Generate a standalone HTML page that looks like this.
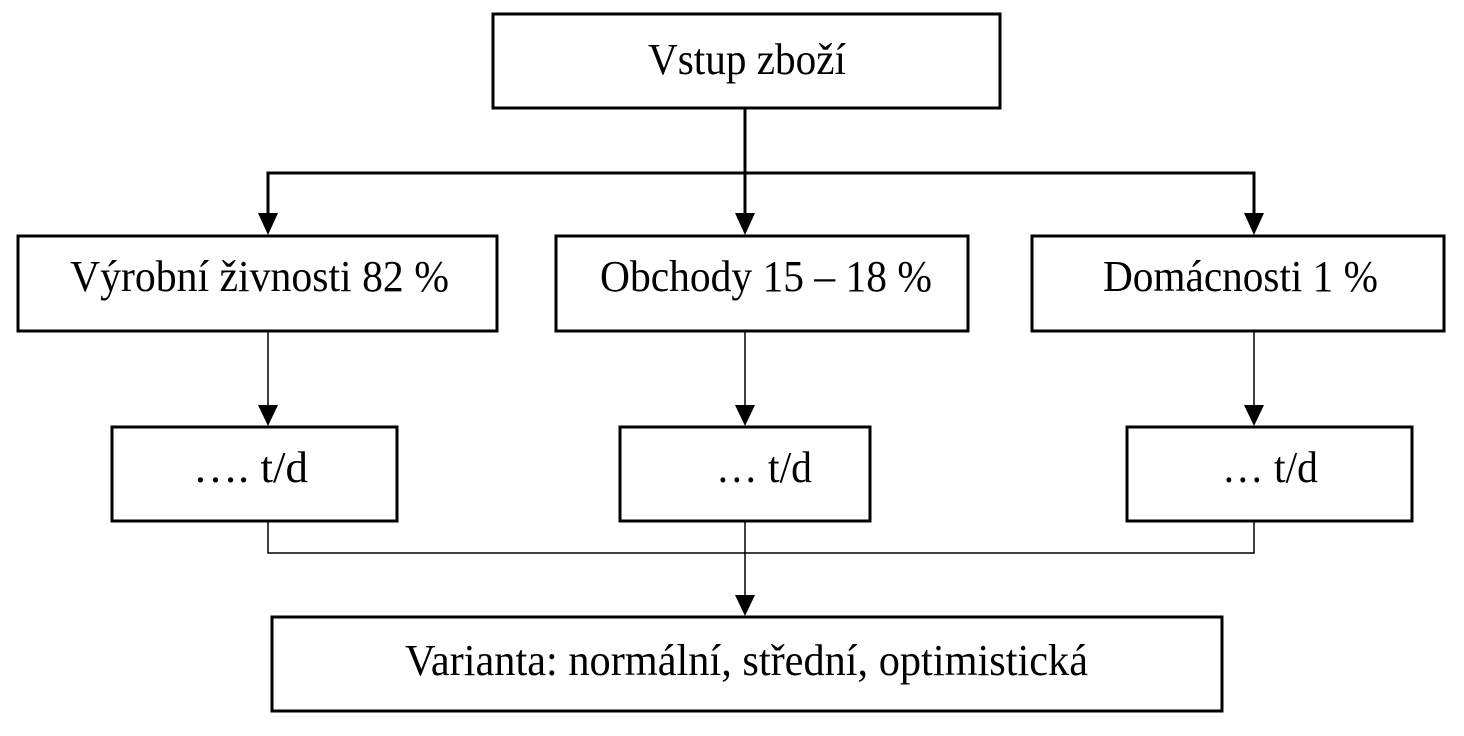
<!DOCTYPE html>
<html><head><meta charset="utf-8"><style>
html,body{margin:0;padding:0;background:#fff;}
svg{display:block;}
text{font-family:"Liberation Serif",serif;font-size:44px;fill:#000;}
</style></head><body>
<svg width="1464" height="736" viewBox="0 0 1464 736" xmlns="http://www.w3.org/2000/svg">
<g fill="none" stroke="#000" stroke-width="3">
<rect x="493" y="14" width="507" height="94"/>
<rect x="18" y="236" width="479" height="95"/>
<rect x="556" y="236" width="412" height="95"/>
<rect x="1032" y="236" width="412" height="95"/>
<rect x="112" y="427" width="285" height="94"/>
<rect x="620" y="427" width="250" height="94"/>
<rect x="1127" y="427" width="285" height="94"/>
<rect x="272" y="617" width="950" height="94"/>
<polyline points="268,214 268,173 1254,173 1254,214"/>
<line x1="745" y1="108" x2="745" y2="214"/>
</g>
<g fill="none" stroke="#000" stroke-width="1.5">
<line x1="268" y1="331" x2="268" y2="407"/>
<line x1="745" y1="331" x2="745" y2="407"/>
<line x1="1254" y1="331" x2="1254" y2="407"/>
<polyline points="268,521 268,553 1254,553 1254,521"/>
<line x1="745" y1="521" x2="745" y2="597"/>
</g>
<g fill="#000">
<polygon points="258,213 278,213 268,235"/>
<polygon points="735,213 755,213 745,235"/>
<polygon points="1244,213 1264,213 1254,235"/>
<polygon points="258,405 278,405 268,426"/>
<polygon points="735,405 755,405 745,426"/>
<polygon points="1244,405 1264,405 1254,426"/>
<polygon points="735,595 755,595 745,616"/>
</g>
<text x="648" y="74" textLength="198" lengthAdjust="spacingAndGlyphs">Vstup zboží</text>
<text x="70" y="291" textLength="379" lengthAdjust="spacingAndGlyphs">Výrobní živnosti 82 %</text>
<text x="600" y="291" textLength="332" lengthAdjust="spacingAndGlyphs">Obchody 15 – 18 %</text>
<text x="1103" y="291" textLength="275" lengthAdjust="spacingAndGlyphs">Domácnosti 1 %</text>
<text x="193" y="482" textLength="115" lengthAdjust="spacingAndGlyphs">…. t/d</text>
<text x="716" y="482" textLength="96" lengthAdjust="spacingAndGlyphs">… t/d</text>
<text x="1222" y="482" textLength="96" lengthAdjust="spacingAndGlyphs">… t/d</text>
<text x="405" y="675" textLength="683" lengthAdjust="spacingAndGlyphs">Varianta: normální, střední, optimistická</text>
</svg>
</body></html>
